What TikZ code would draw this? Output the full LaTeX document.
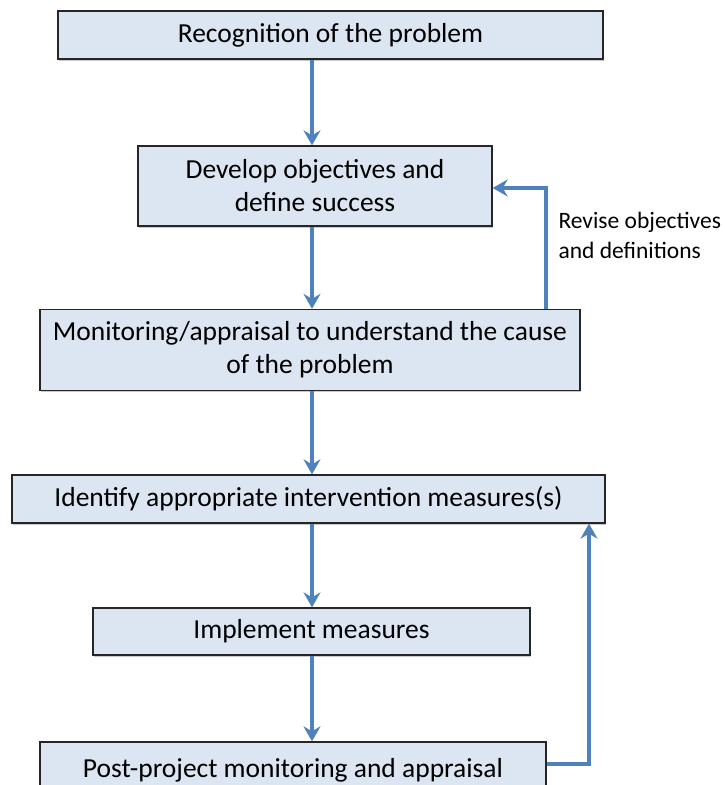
\documentclass[tikz,border=0pt]{standalone}
\usepackage{fontspec}
\setmainfont{Carlito}
\usetikzlibrary{arrows.meta,shadows}
\definecolor{boxfill}{HTML}{DCE6F2}
\definecolor{arrowblue}{HTML}{4F81BD}
\tikzset{
  stepbox/.style={draw=black!85, line width=1.3pt, fill=boxfill, inner sep=0pt,
    align=center, font=\fontsize{27.5}{33}\selectfont,
    drop shadow={shadow xshift=1pt, shadow yshift=-1.5pt, opacity=.35, fill=black!60}},
  flow/.style={draw=arrowblue, line width=3.2pt, -{Stealth[length=15pt,width=17pt,inset=5pt]}},
}
\begin{document}
\begin{tikzpicture}[x=1pt,y=-1pt]
\useasboundingbox (0,0) rectangle (724,785);
\clip (0,0) rectangle (724,785);
\node[stepbox, minimum width=545pt, minimum height=48pt] (b1) at (330.5,35) {Recognition of the problem};
\node[stepbox, minimum width=354pt, minimum height=80pt] (b2) at (315,186) {Develop objectives and\\define success};
\node[stepbox, minimum width=540pt, minimum height=81pt] (b3) at (310,350) {Monitoring/appraisal to understand the cause\\of the problem};
\node[stepbox, minimum width=593pt, minimum height=48pt] (b4) at (308.5,499) {Identify appropriate intervention measures(s)};
\node[stepbox, minimum width=437pt, minimum height=47pt] (b5) at (311.5,631.5) {Implement measures};
\node[stepbox, minimum width=506pt, minimum height=56pt] (b6) at (293,770) {Post-project monitoring and appraisal};
\node[font=\fontsize{23.5}{30}\selectfont, align=left, anchor=west] (rev) at (555,235) {Revise objectives\\and definitions};

\coordinate (c1) at (312,0);
\draw[flow] (b1.south -| c1) -- (b2.north -| c1);
\draw[flow] (b2.south -| c1) -- (b3.north -| c1);
\draw[flow] (b3.south -| c1) -- (b4.north -| c1);
\draw[flow] (b4.south -| c1) -- (b5.north -| c1);
\draw[flow] (b5.south -| c1) -- (b6.north -| c1);

\coordinate (r1) at (546,188);
\draw[flow] (b3.north -| r1) |- (b2.east |- r1);
\coordinate (p1) at (589,764);
\draw[flow] (b6.east |- p1) -| (b4.south -| p1);
\end{tikzpicture}
\end{document}
